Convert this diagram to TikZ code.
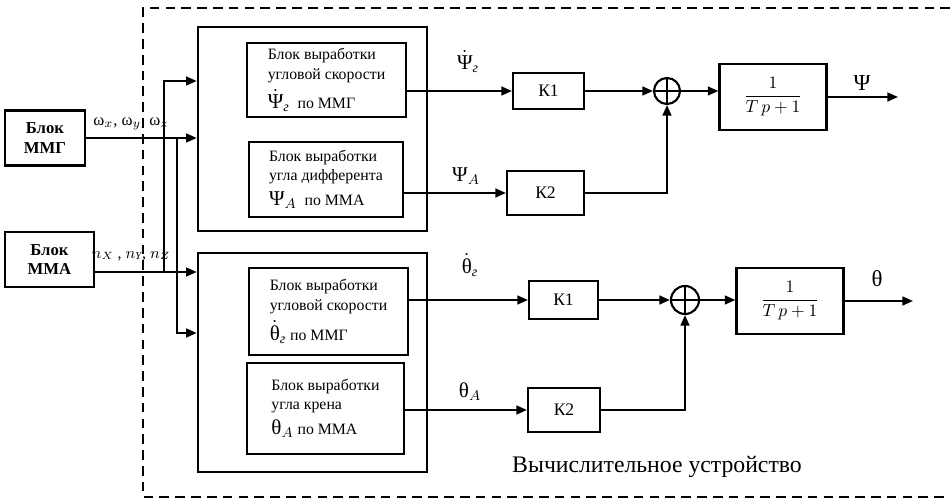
\documentclass[tikz,border=0pt]{standalone}
\usepackage{amsmath}
\usepackage{fontspec}
\setmainfont{Liberation Serif}
\usetikzlibrary{arrows.meta,positioning}

\tikzset{
  srcbox/.style={draw, line width=1.2pt, align=center, inner sep=1pt,
    font=\bfseries\fontsize{9.5}{11}\selectfont},
  outerbox/.style={draw, line width=1.5pt},
  calcbox/.style={draw, line width=0.9pt, align=left, inner sep=2pt,
    font=\fontsize{9}{11}\selectfont},
  gainbox/.style={draw, line width=1.2pt, font=\fontsize{10}{12}\selectfont},
  sumnode/.style={draw, circle, line width=1.2pt, minimum size=0.52cm, inner sep=0pt},
  tfbox/.style={draw, line width=1.3pt, minimum width=2.14cm, minimum height=1.32cm},
  sig/.style={->, line width=1.1pt},
  wire/.style={line width=1.1pt},
  greek/.style={font=\fontsize{12}{14}\selectfont},
}

\begin{document}
\begin{tikzpicture}[x=0.02cm,y=-0.02cm,>={Triangle[length=6pt,width=5pt]}]
  \useasboundingbox (0,0) rectangle (950,499);

  % frame of the computing device
  \draw[line width=1.2pt, dash pattern=on 5.5pt off 3.5pt]
    (950,8) -- (143,8) -- (143,497) -- (950,497);
  \node[font=\fontsize{13.5}{16}\selectfont] (dev) at (657,467) {Вычислительное устройство};

  % sensor blocks
  \node[srcbox, minimum width=1.6cm, minimum height=1.1cm] (mmg) at (45,138) {Блок\\ММГ};
  \node[srcbox, minimum width=1.78cm, minimum height=1.1cm] (mma) at (49.5,259.5) {Блок\\ММА};

  % computing blocks
  \node[outerbox, minimum width=4.58cm, minimum height=4.08cm] (ub) at (312.5,129) {};
  \node[outerbox, minimum width=4.58cm, minimum height=4.38cm] (lb) at (312.5,362.5) {};

  \node[calcbox, minimum width=3.18cm, minimum height=1.48cm] (i1) at (326.5,80)
    {Блок выработки\\угловой скорости\\[3pt]
     {\large$\dot{\text{Ψ}}_{\textit{г}}$}\ \ по ММГ};
  \node[calcbox, minimum width=3.08cm, minimum height=1.5cm] (i2) at (326,179.5)
    {Блок выработки\\угла дифферента\\[3pt]
     {\large$\text{Ψ}_{A}$}\ \ по ММА};
  \node[calcbox, minimum width=3.18cm, minimum height=1.74cm] (i3) at (328.5,311.5)
    {Блок выработки\\угловой скорости\\[3pt]
     {\large$\dot{\text{θ}}_{\textit{г}}$}\ по ММГ};
  \node[calcbox, minimum width=3.14cm, minimum height=1.82cm] (i4) at (325.5,408.5)
    {Блок выработки\\угла крена\\[3pt]
     {\large$\text{θ}_{A}$}\ по ММА};

  % input buses
  \coordinate (nout) at (mma.east |- 0,272);
  \coordinate (j1) at (164,272);
  \coordinate (j2) at (177,138);
  \coordinate (uin) at (ub.west |- 0,81);
  \coordinate (lin) at (lb.west |- 0,333);
  \draw[sig] (mmg.east) -- (mmg.east -| ub.west);
  \draw[sig] (nout) -- (nout -| lb.west);
  \draw[sig] (j1) |- (uin);
  \draw[sig] (j2) |- (lin);
  \node[font=\fontsize{9.5}{11}\selectfont] (wlab) at (131,124) {ω$_x$, ω$_y$, ω$_z$};
  \node[font=\fontsize{9}{11}\selectfont] (nlab) at (131,256) {$n_X$ , $n_{\mathit{Υ}}$, $n_Z$};

  % upper channel
  \node[gainbox, minimum width=1.42cm, minimum height=0.72cm] (k1a) at (548.5,91) {К1};
  \node[gainbox, minimum width=1.54cm, minimum height=0.88cm] (k2a) at (545.5,193) {К2};
  \node[sumnode] (sa) at (667,91) {};
  \draw[line width=0.6pt] (sa.north) -- (sa.south) (sa.west) -- (sa.east);
  \node[tfbox] (tfa) at (773,97) {$\dfrac{1}{T\,p+1}$};
  \coordinate (psiout) at (898,97);

  \draw[sig] (i1.east |- k1a.west) -- (k1a.west);
  \draw[sig] (i2.east |- k2a.west) -- (k2a.west);
  \draw[sig] (k1a.east) -- (sa.west);
  \draw[sig] (k2a.east) -| (sa.south);
  \draw[sig] (sa.east) -- (sa.east -| tfa.west);
  \draw[sig] (tfa.east) -- (psiout);
  \node[greek] (l1) at (468,62) {$\dot{\text{Ψ}}_{\textit{г}}$};
  \node[greek] (l2) at (466,176) {$\text{Ψ}_{A}$};
  \node[font=\fontsize{13}{15}\selectfont] (l3) at (862,83) {Ψ};

  % lower channel
  \node[gainbox, minimum width=1.38cm, minimum height=0.76cm] (k1b) at (563.5,300) {К1};
  \node[gainbox, minimum width=1.44cm, minimum height=0.88cm] (k2b) at (564,410) {К2};
  \node[sumnode, minimum size=0.56cm] (sb) at (685,300) {};
  \draw[line width=0.6pt] (sb.north) -- (sb.south) (sb.west) -- (sb.east);
  \node[tfbox] (tfb) at (790,301) {$\dfrac{1}{T\,p+1}$};
  \coordinate (thout) at (913,301);

  \draw[sig] (i3.east |- k1b.west) -- (k1b.west);
  \draw[sig] (i4.east |- k2b.west) -- (k2b.west);
  \draw[sig] (k1b.east) -- (sb.west);
  \draw[sig] (k2b.east) -| (sb.south);
  \draw[sig] (sb.east) -- (sb.east -| tfb.west);
  \draw[sig] (tfb.east) -- (thout);
  \node[greek] (l4) at (470,265) {$\dot{\text{θ}}_{\textit{г}}$};
  \node[greek] (l5) at (470,392) {$\text{θ}_{A}$};
  \node[font=\fontsize{13}{15}\selectfont] (l6) at (877,279) {θ};
\end{tikzpicture}
\end{document}
